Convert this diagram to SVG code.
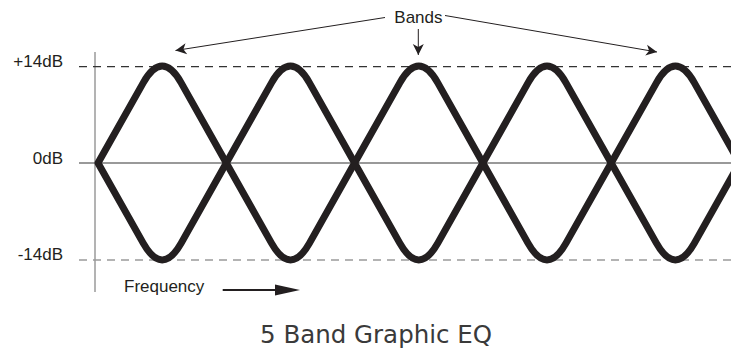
<svg xmlns="http://www.w3.org/2000/svg" width="731" height="349" viewBox="0 0 731 349">
  <style>
    .lbl { font-family: "Liberation Sans", Arial, sans-serif; font-size: 17px; fill: #231f20; }
    .title { font-family: "DejaVu Sans", sans-serif; font-size: 24.5px; fill: #3a3a3a; }
    .band { fill: none; stroke: #231f20; stroke-width: 7; stroke-linejoin: round; }
    .axis { stroke: #9a9a9a; stroke-width: 1.5; fill: none; }
    .zero { stroke: #777777; stroke-width: 1.5; fill: none; }
    .dashTop { stroke: #333333; stroke-width: 1.2; stroke-dasharray: 8 6; fill: none; }
    .dashBot { stroke: #9a9a9a; stroke-width: 1.5; stroke-dasharray: 8 6; fill: none; }
    .conn { stroke: #231f20; stroke-width: 1; fill: none; }
  </style>
  <defs>
    <marker id="barb" markerUnits="userSpaceOnUse" markerWidth="14" markerHeight="14" viewBox="-12 -7 14 14" refX="0" refY="0" orient="auto">
      <path d="M0,0 L-11,-5.5 L-8,0 L-11,5.5 Z" fill="#231f20"/>
    </marker>
  </defs>

  <g id="grid">
    <line class="axis" x1="95" y1="52" x2="95" y2="292"/>
    <line class="zero" x1="79" y1="163" x2="731" y2="163"/>
    <line class="dashTop" x1="79" y1="66.7" x2="731" y2="66.7"/>
    <line class="dashBot" x1="79" y1="260" x2="731" y2="260"/>
  </g>

  <g id="band1"><path class="band" d="M98,163 L143.2,82.9 Q162.2,49.3 181.2,82.9 L226.3,163 L181.2,243.1 Q162.2,276.7 143.2,243.1 Z"/></g>
  <g id="band2"><path class="band" d="M226.3,163 L271.5,82.9 Q290.5,49.3 309.5,82.9 L354.6,163 L309.5,243.1 Q290.5,276.7 271.5,243.1 Z"/></g>
  <g id="band3"><path class="band" d="M354.6,163 L399.8,82.9 Q418.8,49.3 437.8,82.9 L482.9,163 L437.8,243.1 Q418.8,276.7 399.8,243.1 Z"/></g>
  <g id="band4"><path class="band" d="M482.9,163 L528,82.9 Q547,49.3 566,82.9 L611.2,163 L566,243.1 Q547,276.7 528,243.1 Z"/></g>
  <g id="band5"><path class="band" d="M611.2,163 L656.4,82.9 Q675.4,49.3 694.4,82.9 L739.5,163 L694.4,243.1 Q675.4,276.7 656.4,243.1 Z"/></g>

  <g id="label-plus14"><text class="lbl" x="63" y="66.7" text-anchor="end">+14dB</text></g>
  <g id="label-0"><text class="lbl" x="63" y="164" text-anchor="end">0dB</text></g>
  <g id="label-minus14"><text class="lbl" x="63" y="260" text-anchor="end">-14dB</text></g>
  <g id="label-bands"><text class="lbl" x="394.3" y="22.7">Bands</text></g>
  <g id="label-frequency"><text class="lbl" x="124" y="292.3">Frequency</text></g>
  <g id="title"><text class="title" x="260" y="343">5 Band Graphic EQ</text></g>

  <g id="connectors">
    <line class="conn" x1="385" y1="17.5" x2="175.5" y2="50.5" marker-end="url(#barb)"/>
    <line class="conn" x1="418.3" y1="29" x2="418.3" y2="55" stroke-width="1.5" marker-end="url(#barb)"/>
    <line class="conn" x1="445" y1="15.5" x2="657" y2="52" marker-end="url(#barb)"/>
    <line x1="222.7" y1="290" x2="277" y2="290" stroke="#231f20" stroke-width="2"/>
    <polygon points="275,284.5 300,290 275,295.5" fill="#231f20"/>
  </g>
</svg>
